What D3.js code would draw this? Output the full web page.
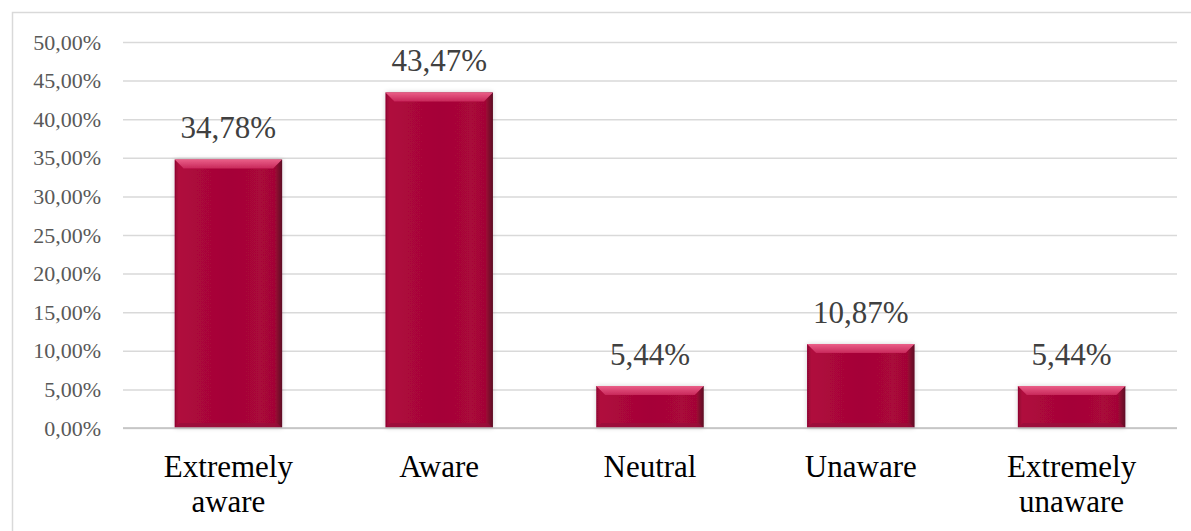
<!DOCTYPE html>
<html>
<head>
<meta charset="utf-8">
<script src="https://cdn.jsdelivr.net/npm/d3@7"></script>
<style>
  html, body { margin: 0; padding: 0; background: #fff; }
  svg { display: block; }
  svg text { font-family: "Liberation Serif", "Times New Roman", serif; }
</style>
</head>
<body>
<svg id="chart" width="1191" height="531"></svg>
<script>
// Awareness levels and their shares (percent)
const categories = [["Extremely", "aware"], ["Aware"], ["Neutral"], ["Unaware"], ["Extremely", "unaware"]];
const values = [34.78, 43.47, 5.44, 10.87, 5.44];
const tickValues = [0, 5, 10, 15, 20, 25, 30, 35, 40, 45, 50];

const fmt = v => v.toFixed(2).replace(".", ",") + "%";

const svg = d3.select("#chart");
const W = 1191, H = 531;
const margin = { left: 123, right: 14, top: 42, bottom: 103 };

const x = d3.scaleBand()
  .domain(d3.range(values.length))
  .range([margin.left, W - margin.right])
  .paddingInner(0.49)
  .paddingOuter(0.245);

const y = d3.scaleLinear()
  .domain([0, 50])
  .range([H - margin.bottom, margin.top]);

// outer chart frame
svg.append("rect")
  .attr("x", 12.5).attr("y", 12.5)
  .attr("width", W + 10).attr("height", H + 10)
  .attr("fill", "none").attr("stroke", "#d9d9d9").attr("stroke-width", 1.5);

const defs = svg.append("defs");
const body = defs.append("linearGradient").attr("id", "barBody")
  .attr("x1", "0").attr("x2", "1").attr("y1", "0").attr("y2", "0");
[[0, "#8e0530"], [0.04, "#b00a3e"], [0.2, "#ab073b"], [0.5, "#a50537"], [0.8, "#a9073a"],
 [0.93, "#a30636"], [0.97, "#7a0a2c"], [1, "#5e0b24"]]
  .forEach(([o, c]) => body.append("stop").attr("offset", o).attr("stop-color", c));

const topG = defs.append("linearGradient").attr("id", "barTop")
  .attr("x1", "0").attr("x2", "0").attr("y1", "0").attr("y2", "1");
[[0, "#ea5f88"], [1, "#c8275a"]]
  .forEach(([o, c]) => topG.append("stop").attr("offset", o).attr("stop-color", c));

const shadow = defs.append("filter").attr("id", "soft")
  .attr("x", "-20%").attr("y", "-20%").attr("width", "140%").attr("height", "140%");
shadow.append("feGaussianBlur").attr("in", "SourceAlpha").attr("stdDeviation", 2.5).attr("result", "b");
shadow.append("feComponentTransfer").attr("in", "b").attr("result", "s")
  .append("feFuncA").attr("type", "linear").attr("slope", 0.18);
const merge = shadow.append("feMerge");
merge.append("feMergeNode").attr("in", "s");
merge.append("feMergeNode").attr("in", "SourceGraphic");

// horizontal gridlines and value ticks
const yAxis = d3.axisLeft(y).tickValues(tickValues).tickFormat(fmt)
  .tickSize(-(W - margin.right - margin.left)).tickPadding(22);
const gy = svg.append("g").attr("transform", `translate(${margin.left},0)`).call(yAxis);
gy.select(".domain").remove();
gy.selectAll(".tick line").attr("stroke", "#d9d9d9").attr("stroke-width", 1.5);
gy.selectAll(".tick text")
  .style("font-family", "'Liberation Serif', 'Times New Roman', serif")
  .attr("font-size", 22).attr("fill", "#595959");

// bars with bevelled tops
const bevel = 9;
const bars = svg.append("g").selectAll("g").data(values).join("g").attr("filter", "url(#soft)");
bars.append("rect")
  .attr("x", (d, i) => x(i)).attr("y", d => y(d))
  .attr("width", x.bandwidth()).attr("height", d => y(0) - y(d))
  .attr("fill", "url(#barBody)");
bars.append("path")
  .attr("d", (d, i) => {
    const x0 = x(i), x1 = x(i) + x.bandwidth(), t = y(d);
    const h = Math.min(bevel, (y(0) - y(d)) / 2);
    return `M${x0},${t}L${x1},${t}L${x1 - h},${t + h}L${x0 + h},${t + h}Z`;
  })
  .attr("fill", "url(#barTop)");
bars.append("path")
  .attr("d", (d, i) => {
    const x0 = x(i), x1 = x(i) + x.bandwidth(), b = y(0);
    const h = 5;
    return `M${x0},${b}L${x1},${b}L${x1 - h},${b - h}L${x0 + h},${b - h}Z`;
  })
  .attr("fill", "#96083a").attr("opacity", 0.7);

// baseline
svg.append("line")
  .attr("x1", margin.left).attr("x2", W - margin.right)
  .attr("y1", y(0)).attr("y2", y(0))
  .attr("stroke", "#bfbfbf").attr("stroke-width", 1.5);

// value labels
svg.append("g").selectAll("text").data(values).join("text")
  .attr("x", (d, i) => x(i) + x.bandwidth() / 2)
  .attr("y", d => y(d) - 21)
  .attr("text-anchor", "middle")
  .style("font-family", "'Liberation Serif', 'Times New Roman', serif")
  .attr("font-size", 31).attr("fill", "#404040")
  .text(d => fmt(d));

// category labels
const cat = svg.append("g").selectAll("text").data(categories).join("text")
  .attr("x", (d, i) => x(i) + x.bandwidth() / 2)
  .attr("y", 477)
  .attr("text-anchor", "middle")
  .style("font-family", "'Liberation Serif', 'Times New Roman', serif")
  .attr("font-size", 31).attr("fill", "#000");
cat.selectAll("tspan").data(d => d).join("tspan")
  .attr("x", function () { return d3.select(this.parentNode).attr("x"); })
  .attr("dy", (d, j) => j === 0 ? 0 : 35)
  .text(d => d);
</script>
</body>
</html>
